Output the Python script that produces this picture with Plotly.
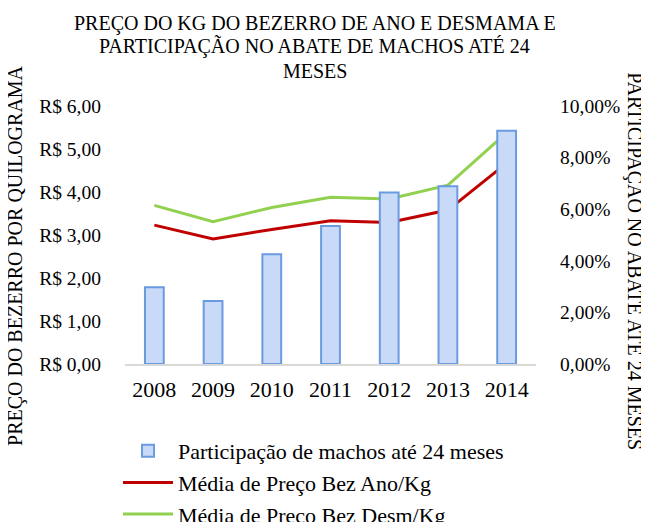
import plotly.graph_objects as go

anos = ["2008", "2009", "2010", "2011", "2012", "2013", "2014"]
participacao = [0.0297, 0.0244, 0.0425, 0.0535, 0.0665, 0.0689, 0.0904]
preco_ano = [3.23, 2.91, 3.13, 3.33, 3.29, 3.58, 4.67]
preco_desm = [3.69, 3.31, 3.64, 3.88, 3.84, 4.16, 5.38]

left_ticks = [0, 1, 2, 3, 4, 5, 6]
left_labels = ["R$ 0,00", "R$ 1,00", "R$ 2,00", "R$ 3,00", "R$ 4,00", "R$ 5,00", "R$ 6,00"]
right_ticks = [0, 0.02, 0.04, 0.06, 0.08, 0.10]
right_labels = ["0,00%", "2,00%", "4,00%", "6,00%", "8,00%", "10,00%"]

title_lines = [
    "PREÇO DO KG DO BEZERRO DE ANO E DESMAMA E",
    "PARTICIPAÇÃO NO ABATE DE MACHOS ATÉ 24",
    "MESES",
]

FONT = "'Liberation Serif', 'Times New Roman', serif"

fig = go.Figure()
fig.add_trace(go.Bar(
    x=anos, y=participacao, yaxis="y2",
    name="Participação de machos até 24 meses", legendgroup="a",
    marker=dict(color="#C9DAF8", line=dict(color="#6A9BE0", width=2)),
    width=0.32,
))
fig.add_trace(go.Scatter(
    x=anos, y=preco_ano, mode="lines", name="Média de Preço Bez Ano/Kg",
    legendgroup="b", line=dict(color="#C00000", width=3),
))
fig.add_trace(go.Scatter(
    x=anos, y=preco_desm, mode="lines", name="Média de Preço Bez Desm/Kg",
    legendgroup="c", line=dict(color="#92D050", width=3),
))

# plot area: 117..528 x 98..356 (figure px)
PB, PH = 356, 258
title_y_px = [15, 37.5, 63]
annotations = [
    dict(text=t, xref="paper", yref="paper", x=0.462, y=(PB - yp) / PH,
         xanchor="center", yanchor="middle", showarrow=False, font=dict(size=20))
    for t, yp in zip(title_lines, title_y_px)
]
annotations += [
    dict(text="PREÇO DO BEZERRO POR QUILOGRAMA", textangle=-90,
         xref="paper", yref="paper", x=-0.268, y=0.422,
         xanchor="center", yanchor="middle", showarrow=False,
         font=dict(size=20)),
    dict(text="PARTICIPAÇAO NO ABATE ATE 24 MESES", textangle=90,
         xref="paper", yref="paper", x=1.24, y=0.40,
         xanchor="center", yanchor="middle", showarrow=False,
         font=dict(size=20)),
]

fig.update_layout(
    width=649, height=522,
    margin=dict(l=117, r=121, t=98, b=166, autoexpand=False),
    paper_bgcolor="white", plot_bgcolor="white",
    font=dict(family=FONT, size=20, color="black"),
    showlegend=True,
    legend=dict(
        x=-0.017, y=-0.256, xanchor="left", yanchor="top",
        orientation="v", traceorder="normal",
        font=dict(size=22), itemwidth=50, tracegroupgap=3,
    ),
    xaxis=dict(
        showgrid=False, showline=True, linecolor="#D9D9D9", linewidth=1.5,
        ticks="", tickfont=dict(size=22), zeroline=False,
        ticklabelstandoff=5,
    ),
    yaxis=dict(
        range=[0, 6], tickvals=left_ticks, ticktext=left_labels,
        showgrid=False, showline=False, zeroline=False, ticks="",
        ticklabelstandoff=23, tickfont=dict(size=19.5),
    ),
    yaxis2=dict(
        range=[0, 0.10], tickvals=right_ticks, ticktext=right_labels,
        overlaying="y", side="right",
        showgrid=False, showline=False, zeroline=False, ticks="",
        ticklabelstandoff=23, tickfont=dict(size=19.5),
    ),
    annotations=annotations,
)

fig.write_html("out.html")
